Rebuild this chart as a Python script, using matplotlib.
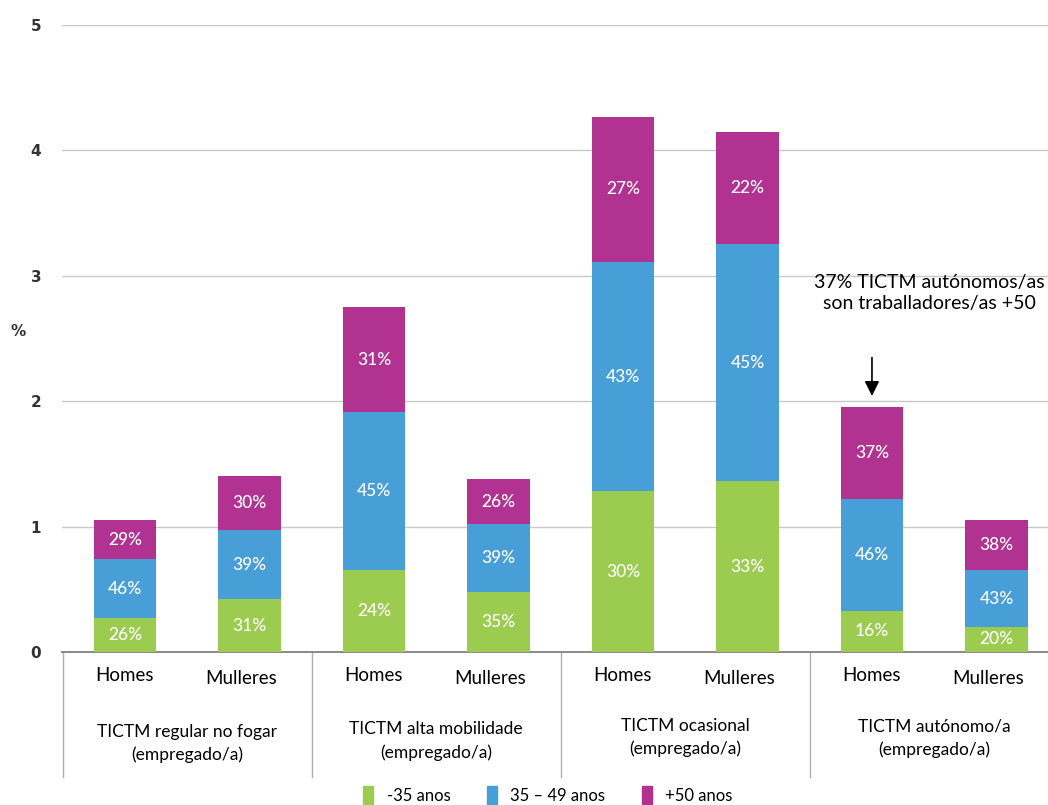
import numpy as np
import matplotlib
matplotlib.use("Agg")
import matplotlib.pyplot as plt
from matplotlib.patches import Patch

grupos = ["TICTM regular no fogar\n(empregado/a)", "TICTM alta mobilidade\n(empregado/a)",
          "TICTM ocasional\n(empregado/a)", "TICTM autónomo/a\n(empregado/a)"]
sexos = ["Homes", "Mulleres"] * 4
idades = ["-35 anos", "35 – 49 anos", "+50 anos"]

verde = [0.27, 0.42, 0.65, 0.48, 1.28, 1.36, 0.33, 0.20]
azul = [0.47, 0.55, 1.26, 0.54, 1.83, 1.89, 0.89, 0.45]
morado = [0.31, 0.43, 0.84, 0.36, 1.16, 0.90, 0.73, 0.40]

verde_pct = [26, 31, 24, 35, 30, 33, 16, 20]
azul_pct = [46, 39, 45, 39, 43, 45, 46, 43]
morado_pct = [29, 30, 31, 26, 27, 22, 37, 38]

cores = ["#9BCC50", "#489ED6", "#B13291"]
fonte = "Lato"

fig = plt.figure(figsize=(10.48, 8.05), dpi=100)
ax = fig.add_axes([62 / 1048, 153 / 805, 986 / 1048, 627 / 805])

x = np.arange(len(verde))
ancho = 0.5
series = [verde, azul, morado]
pcts = [verde_pct, azul_pct, morado_pct]
base = np.zeros(len(verde))
for vals, pc, cor in zip(series, pcts, cores):
    vals = np.array(vals)
    ax.bar(x, vals, ancho, bottom=base, color=cor, zorder=3)
    for xi, b, v, p in zip(x, base, vals, pc):
        ax.text(xi, b + v / 2, f"{p}%", color="white", ha="center", va="center",
                fontsize=12.5, family=fonte, fontweight="medium", zorder=4)
    base = base + vals

ax.set_xlim(-0.506, 7.414)
ax.set_ylim(0, 5)
ax.set_yticks(range(6))
ax.set_yticklabels([str(i) for i in range(6)], fontsize=11, fontweight="bold", color="#333333")
ax.tick_params(axis="y", length=0, pad=15)
ax.set_xticks([])
ax.grid(axis="y", color="#c8c8c8", lw=1, zorder=0)
for s in ["top", "right", "left"]:
    ax.spines[s].set_visible(False)
ax.spines["bottom"].set_color("#808080")
ax.spines["bottom"].set_linewidth(1.3)
ax.set_ylabel("%", rotation=0, fontsize=11, fontweight="bold", color="#333333")
ax.yaxis.set_label_coords(-0.045, 0.5)

# táboa baixo o eixo
for sx in [-0.5, 1.5, 3.5, 5.5]:
    ax.plot([sx, sx], [0, -1.0], color="#b0b0b0", lw=1, clip_on=False)
for xi, s in zip(x, sexos):
    if s == "Homes":
        ax.text(xi, -0.19, s, ha="center", va="center", fontsize=13.5, family=fonte, clip_on=False)
    else:
        ax.text(xi - 0.07, -0.215, s, ha="center", va="center", fontsize=13.5, family=fonte, clip_on=False)
grupo_y = [-0.73, -0.71, -0.68, -0.69]
for i, g in enumerate(grupos):
    ax.text(2 * i + 0.5, grupo_y[i], g, ha="center", va="center", fontsize=12.5, family=fonte,
            linespacing=1.5, clip_on=False)

# anotación
ax.annotate("", xy=(6, 2.02), xytext=(6, 2.37),
            arrowprops=dict(arrowstyle="-|>", color="black", lw=1.2, mutation_scale=22))
ax.text(6.46, 2.86, "37% TICTM autónomos/as\nson traballadores/as +50", ha="center", va="center",
        fontsize=14, family=fonte, linespacing=1.3)

handles = [Patch(color=c, label=l) for c, l in zip(cores, idades)]
fig.legend(handles=handles, loc="center", bbox_to_anchor=(548 / 1048, 1 - 795 / 805), ncol=3,
           frameon=False, handlelength=0.6, handleheight=1.3, columnspacing=2.2,
           prop={"family": fonte, "size": 12})

fig.savefig("out.png", dpi=100)
